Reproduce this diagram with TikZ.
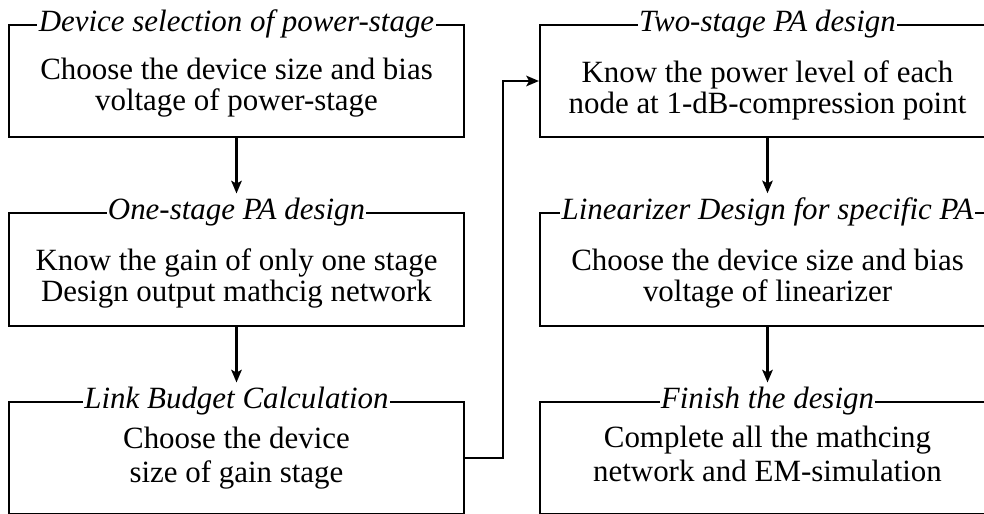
\documentclass[tikz,border=0pt]{standalone}
\usepackage{fontspec}
\setmainfont{Liberation Serif}
\usetikzlibrary{arrows.meta,positioning}

\begin{document}
\begin{tikzpicture}[
  stage/.style={rectangle,draw,line width=1.5pt,minimum width=11.375cm,
                minimum height=2.8cm,inner sep=0pt},
  stagetitle/.style={fill=white,inner xsep=1pt,inner ysep=3pt,
                     font=\fontsize{22}{22}\selectfont\itshape},
  stagetext/.style={align=center,inner sep=0pt,
                    font=\fontsize{22}{22}\selectfont},
  arr/.style={-{Stealth[length=9pt,width=7.5pt,inset=2pt]},line width=1.5pt}
]
  \useasboundingbox (0,0) rectangle (24.6,-12.85);
  \clip (0,0) rectangle (24.6,-12.85);

  % ---- Left column: single stage ----------------------------
  \node[stage] (L1) at (5.9125,-2.025) {};
  \node[stagetitle] (L1t) at (L1.north) {Device selection of power-stage};
  \node[stagetext] (L1b) at (5.9125,-2.2)
    {Choose the device size and bias\\voltage of power-stage};

  \node[stage,minimum height=2.825cm] (L2) at (5.9125,-6.7375) {};
  \node[stagetitle] (L2t) at (L2.north) {One-stage PA design};
  \node[stagetext] (L2b) at (5.9125,-6.95)
    {Know the gain of only one stage\\Design output mathcig network};

  \node[stage] (L3) at (5.9125,-11.45) {};
  \node[stagetitle] (L3t) at (L3.north) {Link Budget Calculation};
  \node[stagetext,font=\fontsize{22}{24}\selectfont] (L3b) at (5.9125,-11.45)
    {Choose the device\\size of gain stage};

  % ---- Right column: two stages and linearizer --------------
  \node[stage] (R1) at (19.1875,-2.025) {};
  \node[stagetitle] (R1t) at (R1.north) {Two-stage PA design};
  \node[stagetext] (R1b) at (19.1875,-2.25)
    {Know the power level of each\\node at 1-dB-compression point};

  \node[stage,minimum height=2.825cm] (R2) at (19.1875,-6.7375) {};
  \node[stagetitle] (R2t) at (R2.north) {Linearizer Design for specific PA};
  \node[stagetext] (R2b) at (19.1875,-6.97)
    {Choose the device size and bias\\voltage of linearizer};

  \node[stage] (R3) at (19.1875,-11.45) {};
  \node[stagetitle] (R3t) at (R3.north) {Finish the design};
  \node[stagetext,font=\fontsize{22}{24}\selectfont] (R3b) at (19.1875,-11.35)
    {Complete all the mathcing\\network and EM-simulation};

  % ---- Arrows ------------------------------------------------
  \draw[arr] (L1.south) -- (L2t.north);
  \draw[arr] (L2.south) -- (L3t.north);
  \draw[arr] (L3.east) -- ++(0.95,0) |- (R1.west);
  \draw[arr] (R1.south) -- (R2t.north);
  \draw[arr] (R2.south) -- (R3t.north);

\end{tikzpicture}
\end{document}
